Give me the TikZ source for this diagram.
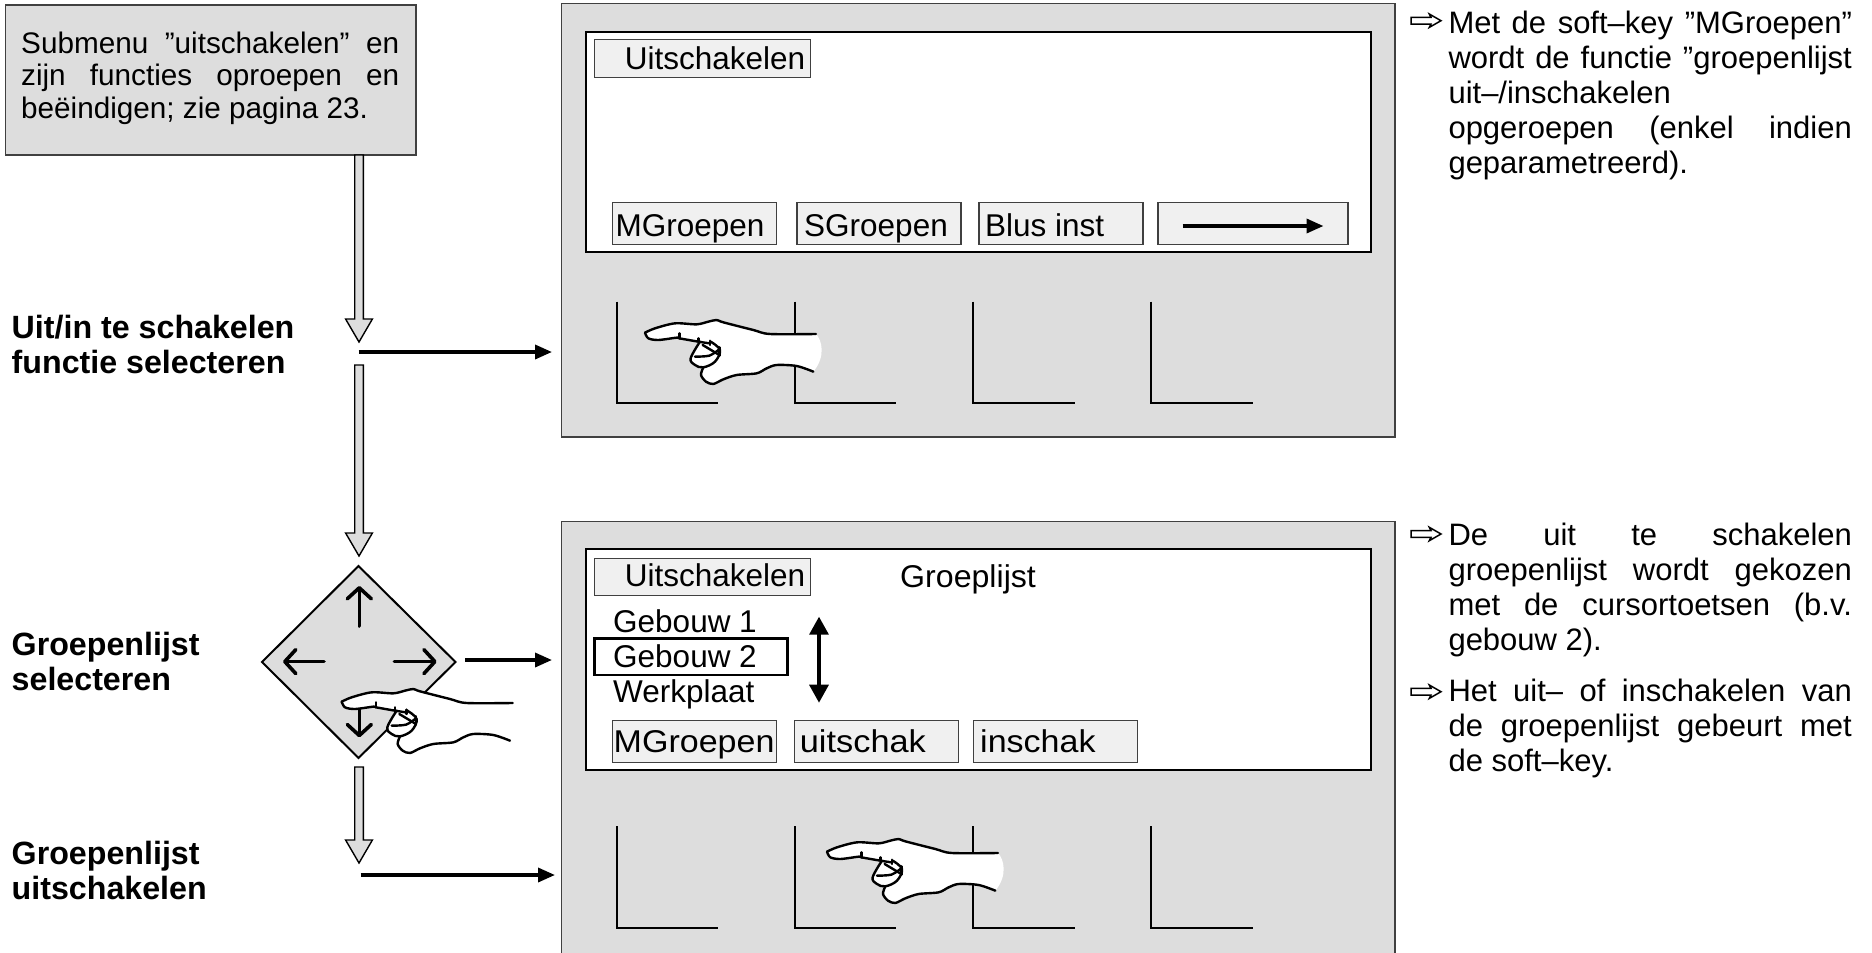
\documentclass[tikz,border=0pt]{standalone}
\usepackage{fontspec}
\setmainfont{Liberation Sans}
\usetikzlibrary{arrows.meta,calc}
\definecolor{panelgray}{HTML}{DDDDDD}
\definecolor{btngray}{HTML}{F0F0F0}
\definecolor{edgegray}{HTML}{404040}
\newcommand{\bxnode}[7]{\node[#2,anchor=north west,minimum width={(#5)-(#3)},minimum height={(#6)-(#4)}] (#1) at (#3,#4) {#7};}
\newcommand{\jl}[1]{\makebox[\linewidth][s]{#1}}
\newcommand{\tblock}[4]{\parbox[t]{#1pt}{\fontsize{#2}{#3}\selectfont #4}}
\newcommand{\hollow}[2]{\draw[hollowarrow] let \p1=(#1),\p2=(#2) in
  (\x1-4.3pt,\y1) -- (\x1-4.3pt,\y2+23pt) -- (\x1-13.4pt,\y2+23pt) -- (\x2,\y2)
  -- (\x1+13.4pt,\y2+23pt) -- (\x1+4.3pt,\y2+23pt) -- (\x1+4.3pt,\y1) -- cycle;}
\tikzset{
  x=1pt,y=-1pt,
  boxbase/.style={rectangle,inner sep=0pt,outer sep=0pt},
  panelbox/.style={boxbase,fill=panelgray,draw=edgegray,line width=1.2pt},
  screenbox/.style={boxbase,fill=white,draw=black,line width=2.2pt},
  btn/.style={boxbase,fill=btngray,draw=edgegray,line width=1.1pt},
  selbox/.style={boxbase,draw=black,line width=2.6pt},
  lcd/.style={anchor=base west,inner sep=0pt,font=\fontsize{31.5}{36}\selectfont},
  lab/.style={anchor=base west,inner sep=0pt,font=\bfseries},
  para/.style={anchor=base west,inner sep=0pt},
  hollowarrow/.style={draw=black,fill=panelgray,line width=1.4pt,line join=miter},
  flowline/.style={draw=black,line width=3.5pt,-{Triangle[length=17pt,width=14pt]}},
  keyline/.style={draw=black,line width=2pt},
  curkey/.style={draw=black,line width=3.6pt,line cap=round,-{Straight Barb[length=11pt,width=24pt,line width=3.6pt,round]}},
  softkey/.pic={
    \draw[keyline] (0,0) -- (0,101.6) -- (101.5,101.6);
  },
  outarrow/.pic={
    \begin{scope}[x=.3333pt,y=-.3333pt]
    \draw[line width=1.5pt,fill=white,line join=miter] (0,-10) -- (60,-10) -- (55,-20) -- (90,0) -- (55,20) -- (60,10) -- (0,10) -- cycle;
    \end{scope}
  },
  fingerhand/.pic={
    \begin{scope}[x=.3333pt,y=-.3333pt,line width=2.4pt,line cap=round,line join=round]
    \fill[white] plot[smooth,tension=.5] coordinates {(75,128) (105,115) (165,100) (230,103) (265,95) (290,90) (310,97) (400,120) (450,132) (588,132)}
      .. controls (606,150) and (618,200) .. (580,245)
      -- plot[smooth,tension=.5] coordinates {(580,245) (530,228) (470,225) (440,235) (410,250) (350,255) (310,268) (280,282) (258,275) (243,255) (250,232)}
      -- (225,225) -- (212,205) -- (235,155)
      -- plot[smooth,tension=.5] coordinates {(235,155) (178,145) (170,143) (115,150) (85,145) (75,128)} -- cycle;
    \draw plot[smooth,tension=.5] coordinates {(75,128) (105,115) (165,100) (230,103) (265,95) (290,90) (310,97) (400,120) (450,132) (588,132)};
    \draw plot[smooth,tension=.5] coordinates {(580,245) (530,228) (470,225) (440,235) (410,250) (350,255) (310,268) (280,282) (258,275) (243,255) (250,232)};
    \draw plot[smooth,tension=.5] coordinates {(75,128) (85,145) (115,150) (170,143) (178,145) (235,155) (268,160)};
    \draw plot[smooth,tension=.6] coordinates {(240,155) (212,205) (225,225) (250,232) (285,215) (300,180) (272,155)};
    \draw (248,165) -- (298,195);
    \draw plot[smooth,tension=.5] coordinates {(225,200) (268,197) (298,178)};
    \draw (298,172) -- (298,197);
    \draw (178,130) -- (178,145);
    \draw (235,145) -- (235,155);
    \draw (270,152) -- (270,165);
    \end{scope}
  }
}
\begin{document}
\begin{tikzpicture}
\useasboundingbox (0,0) rectangle (1872,953);
% top-left box
\bxnode{topbox}{panelbox}{5.4}{5}{416}{155}{}
\node[para] (toptext) at (21,53) {\tblock{378}{29.7}{32.7}{\jl{Submenu ”uitschakelen” en}\\\jl{zijn functies oproepen en}\\beëindigen; zie pagina 23.}};
% panel 1
\bxnode{panelA}{panelbox}{561.6}{3.3}{1395}{437}{}
\bxnode{screenA}{screenbox}{585.8}{31.7}{1371}{252.3}{}
\bxnode{btnAa}{btn}{594.6}{39.7}{810.7}{77.3}{}
\node[lcd] (txtAa) at (624.7,69.5) {Uitschakelen};
\bxnode{btnAb}{btn}{612.7}{202.7}{776.7}{244.3}{}
\node[lcd] (txtAb) at (615.5,236.5) {MGroepen};
\bxnode{btnAc}{btn}{797}{202.7}{961}{244.3}{}
\node[lcd] (txtAc) at (804,236.5) {SGroepen};
\bxnode{btnAd}{btn}{979}{202.7}{1143}{244.3}{}
\node[lcd] (txtAd) at (985,236.5) {Blus inst};
\bxnode{btnAe}{btn}{1158}{202.7}{1348}{244.3}{}
\coordinate (nextS) at (1182.5,226);
\coordinate (nextE) at (1323.5,226);
\draw[flowline] (nextS) -- (nextE);
\pic at (616.5,301.7) {softkey};
\pic at (794.8,301.7) {softkey};
\pic at (973,301.7) {softkey};
\pic at (1151.3,301.7) {softkey};
\pic at (620,290) {fingerhand};
% panel 2 (runs off the bottom edge)
\fill[panelgray] (561.6,521.7) rectangle (1395,953);
\draw[edgegray,line width=1.2pt] (561.6,953) -- (561.6,521.7) -- (1395,521.7) -- (1395,953);
\coordinate (panelB) at (561.6,875);
\bxnode{screenB}{screenbox}{585.8}{549.3}{1371}{770}{}
\bxnode{btnBa}{btn}{594.6}{558.3}{810.7}{595.7}{}
\node[lcd] (txtBa) at (624.7,586.7) {Uitschakelen};
\node[lcd] (txtBb) at (900,587) {\scalebox{1.02}[1]{Groeplijst}};
\node[lcd] (txtBc) at (613,632.7) {Gebouw 1};
\bxnode{selB}{selbox}{594.6}{638.3}{787.6}{675}{}
\node[lcd] (txtBd) at (613,667.7) {Gebouw 2};
\node[lcd] (txtBe) at (613,702.3) {Werkplaat};
\coordinate (updnT) at (819,616.7);
\coordinate (updnB) at (819,702.7);
\draw[draw=black,line width=3.4pt,{Triangle[length=18pt,width=19pt]}-{Triangle[length=18pt,width=19pt]}] (updnT) -- (updnB);
\bxnode{btnBb}{btn}{612.7}{720.7}{776.7}{762.3}{}
\node[lcd] (txtBf) at (613.5,752.7) {\scalebox{1.08}[1]{MGroepen}};
\bxnode{btnBc}{btn}{794.8}{720.7}{958.8}{762.3}{}
\node[lcd] (txtBg) at (799.7,752.7) {\scalebox{1.09}[1]{uitschak}};
\bxnode{btnBd}{btn}{973.6}{720.7}{1137.6}{762.3}{}
\node[lcd] (txtBh) at (980,752.7) {\scalebox{1.08}[1]{inschak}};
\pic at (616.5,826) {softkey};
\pic at (794.8,826) {softkey};
\pic at (973,826) {softkey};
\pic at (1151.3,826) {softkey};
\pic at (802,809) {fingerhand};
% left labels
\node[lab] (labA) at (11.5,338.3) {\tblock{320}{32.2}{35}{\bfseries Uit/in te schakelen\\functie selecteren}};
\node[lab] (labB) at (11.5,655) {\tblock{320}{32.2}{35}{\bfseries Groepenlijst\\selecteren}};
\node[lab] (labC) at (11.5,864.3) {\tblock{320}{32.2}{35}{\bfseries Groepenlijst\\uitschakelen}};
% diamond
\coordinate (dL) at (262,662);
\coordinate (dT) at (358.5,566);
\coordinate (dR) at (455.5,662);
\coordinate (dB) at (358.5,758);
\draw[fill=panelgray,draw=black,line width=2pt,line join=miter] (dL) -- (dT) -- (dR) -- (dB) -- cycle;
\coordinate (cuS) at (359.3,626); \coordinate (cuE) at (359.3,586);
\coordinate (clS) at (324,661.6); \coordinate (clE) at (283,661.6);
\coordinate (crS) at (394.3,661.6); \coordinate (crE) at (436.7,661.6);
\coordinate (cdS) at (359.3,702); \coordinate (cdE) at (359.3,737.3);
\draw[curkey] (cuS) -- (cuE);
\draw[curkey] (clS) -- (clE);
\draw[curkey] (crS) -- (crE);
\draw[curkey] (cdS) -- (cdE);
\pic at (316.67,659) {fingerhand};
% hollow flow arrows
\coordinate (h1S) at (359,155); \coordinate (h1E) at (359,342);
\coordinate (h2S) at (359,365); \coordinate (h2E) at (359,556);
\coordinate (h3S) at (359,767); \coordinate (h3E) at (359,863);
\hollow{h1S}{h1E}
\hollow{h2S}{h2E}
\hollow{h3S}{h3E}
% horizontal arrows
\coordinate (f1S) at (358.6,352); \coordinate (f1E) at (552,352);
\coordinate (f2S) at (465,660); \coordinate (f2E) at (552,660);
\coordinate (f3S) at (360.5,875); \coordinate (f3E) at (555,875);
\draw[flowline] (f1S) -- (f1E);
\draw[flowline] (f2S) -- (f2E);
\draw[flowline] (f3S) -- (f3E);
% right notes
\pic at (1411,20.7) {outarrow};
\node[para] (noteA) at (1448.3,33.3) {\tblock{403.4}{31}{35}{\jl{Met de soft–key ”MGroepen”}\\\jl{wordt de functie ”groepenlijst}\\uit–/inschakelen\\\jl{opgeroepen (enkel indien}\\geparametreerd).}};
\pic at (1411,534) {outarrow};
\node[para] (noteB) at (1448.3,545) {\tblock{403.4}{31}{35}{\jl{De uit te schakelen}\\\jl{groepenlijst wordt gekozen}\\\jl{met de cursortoetsen (b.v.}\\gebouw 2).}};
\pic at (1411,691.7) {outarrow};
\node[para] (noteC) at (1448.3,701.7) {\tblock{403.4}{31}{35}{\jl{Het uit– of inschakelen van}\\\jl{de groepenlijst gebeurt met}\\de soft–key.}};
\end{tikzpicture}
\end{document}
